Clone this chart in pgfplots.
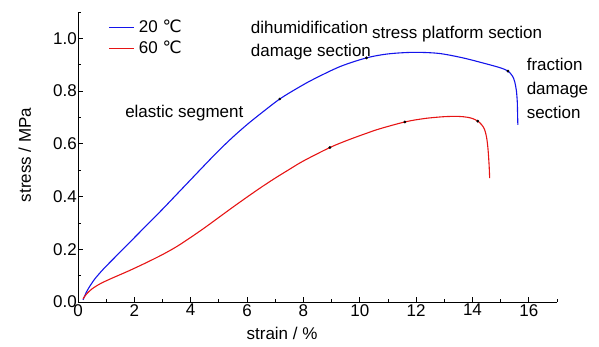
\documentclass[border=0pt]{standalone}
\usepackage{fontspec}
\setmainfont{Liberation Sans}
\newfontfamily\djv{DejaVu Sans}
\usepackage{pgfplots}
\pgfplotsset{compat=1.18}
\definecolor{cblue}{RGB}{20,20,235}
\definecolor{cred}{RGB}{230,20,20}
\begin{document}
\fontsize{17}{20}\selectfont
\begin{tikzpicture}
\begin{axis}[
  scale only axis,
  width=479pt, height=290pt,
  xmin=0, xmax=17, ymin=0, ymax=1.1,
  axis x line=bottom, axis y line=left,
  axis line style={-, line width=0.9pt},
  xtick={0,2,...,16}, ytick={0,0.2,...,1.0},
  minor xtick={1,3,...,17}, minor ytick={0.1,0.3,...,1.1},
  tick align=inside,
  major tick length=5pt, minor tick length=3pt,
  tick style={line width=0.8pt, black},
  /pgf/number format/assume math mode=true,
  ticklabel style={font=\fontsize{17}{20}\selectfont},
  yticklabel style={/pgf/number format/fixed, /pgf/number format/fixed zerofill, /pgf/number format/precision=1, inner sep=1pt},
  xticklabel style={inner sep=2pt},
  xlabel={strain / \%}, ylabel={stress / MPa},
  xlabel style={at={(axis description cs:0.426,-0.107)}, anchor=center},
  ylabel style={at={(axis description cs:-0.111,0.507)}, anchor=center},
  label style={font=\fontsize{17}{20}\selectfont},
  clip=false,
  legend style={at={(rel axis cs:0.062,0.985)}, anchor=north west, draw=none, fill=none,
    font=\fontsize{17}{20}\selectfont, row sep=2pt, inner sep=1pt, nodes={inner xsep=4pt}},
  legend cell align=left,
  legend image code/.code={\draw[#1,line width=1.1pt] (0pt,0pt) -- (25pt,0pt);},
]
\addplot[cblue, line width=1.1pt, smooth] coordinates {
(0.18,0.008) (0.3,0.038) (0.45,0.065) (0.6,0.088) (0.8,0.113) (1.0,0.136)
(1.5,0.19) (2.0,0.244) (2.5,0.298) (3.0,0.352) (3.5,0.408) (4.0,0.464)
(4.5,0.52) (5.0,0.575) (5.5,0.626) (6.0,0.673) (6.5,0.716) (7.16,0.770)
(7.8,0.812) (8.34,0.844) (9.3,0.893) (10.24,0.926) (11.0,0.941) (11.9,0.947)
(12.8,0.943) (13.66,0.926) (14.5,0.903) (15.0,0.888) (15.26,0.876) (15.42,0.857)
(15.5,0.835) (15.56,0.8) (15.59,0.76) (15.6,0.72) (15.61,0.672)
};
\addlegendentry{20 {\djv ℃}}
\addplot[cred, line width=1.1pt, smooth] coordinates {
(0.18,0.012) (0.3,0.03) (0.5,0.05) (0.8,0.07) (1.2,0.09) (1.8,0.118)
(2.4,0.148) (3.0,0.18) (3.5,0.21) (4.0,0.245) (4.5,0.282) (5.0,0.321)
(5.5,0.36) (6.0,0.398) (6.5,0.435) (7.0,0.47) (7.5,0.503) (8.0,0.535)
(8.94,0.586) (9.6,0.615) (10.24,0.64) (10.71,0.657) (11.6,0.683) (12.3,0.696)
(13.0,0.703) (13.5,0.704) (13.8,0.701) (14.0,0.696) (14.19,0.686) (14.33,0.672)
(14.43,0.654) (14.5,0.625) (14.55,0.582) (14.59,0.52) (14.61,0.47)
};
\addlegendentry{60 {\djv ℃}}
\addplot[only marks, mark=*, mark size=1.2pt, black, forget plot] coordinates {
(7.16,0.770) (10.24,0.926) (15.26,0.876) (8.94,0.586) (11.6,0.683) (14.19,0.686)
};
\node[anchor=west, align=left, inner sep=0pt, font=\fontsize{17}{23}\selectfont] at (axis cs:6.13,0.99) {dihumidification\\damage section};
\node[anchor=west, inner sep=0pt] at (axis cs:10.43,1.015) {stress platform section};
\node[anchor=west, align=left, inner sep=0pt, font=\fontsize{17}{24}\selectfont] at (axis cs:15.92,0.81) {fraction\\damage\\section};
\node[anchor=west, inner sep=0pt] at (axis cs:1.67,0.716) {elastic segment};
\end{axis}
\useasboundingbox (current axis.south west) ++(-78pt,-44pt) rectangle ++(599pt,346pt);
\end{tikzpicture}
\end{document}
